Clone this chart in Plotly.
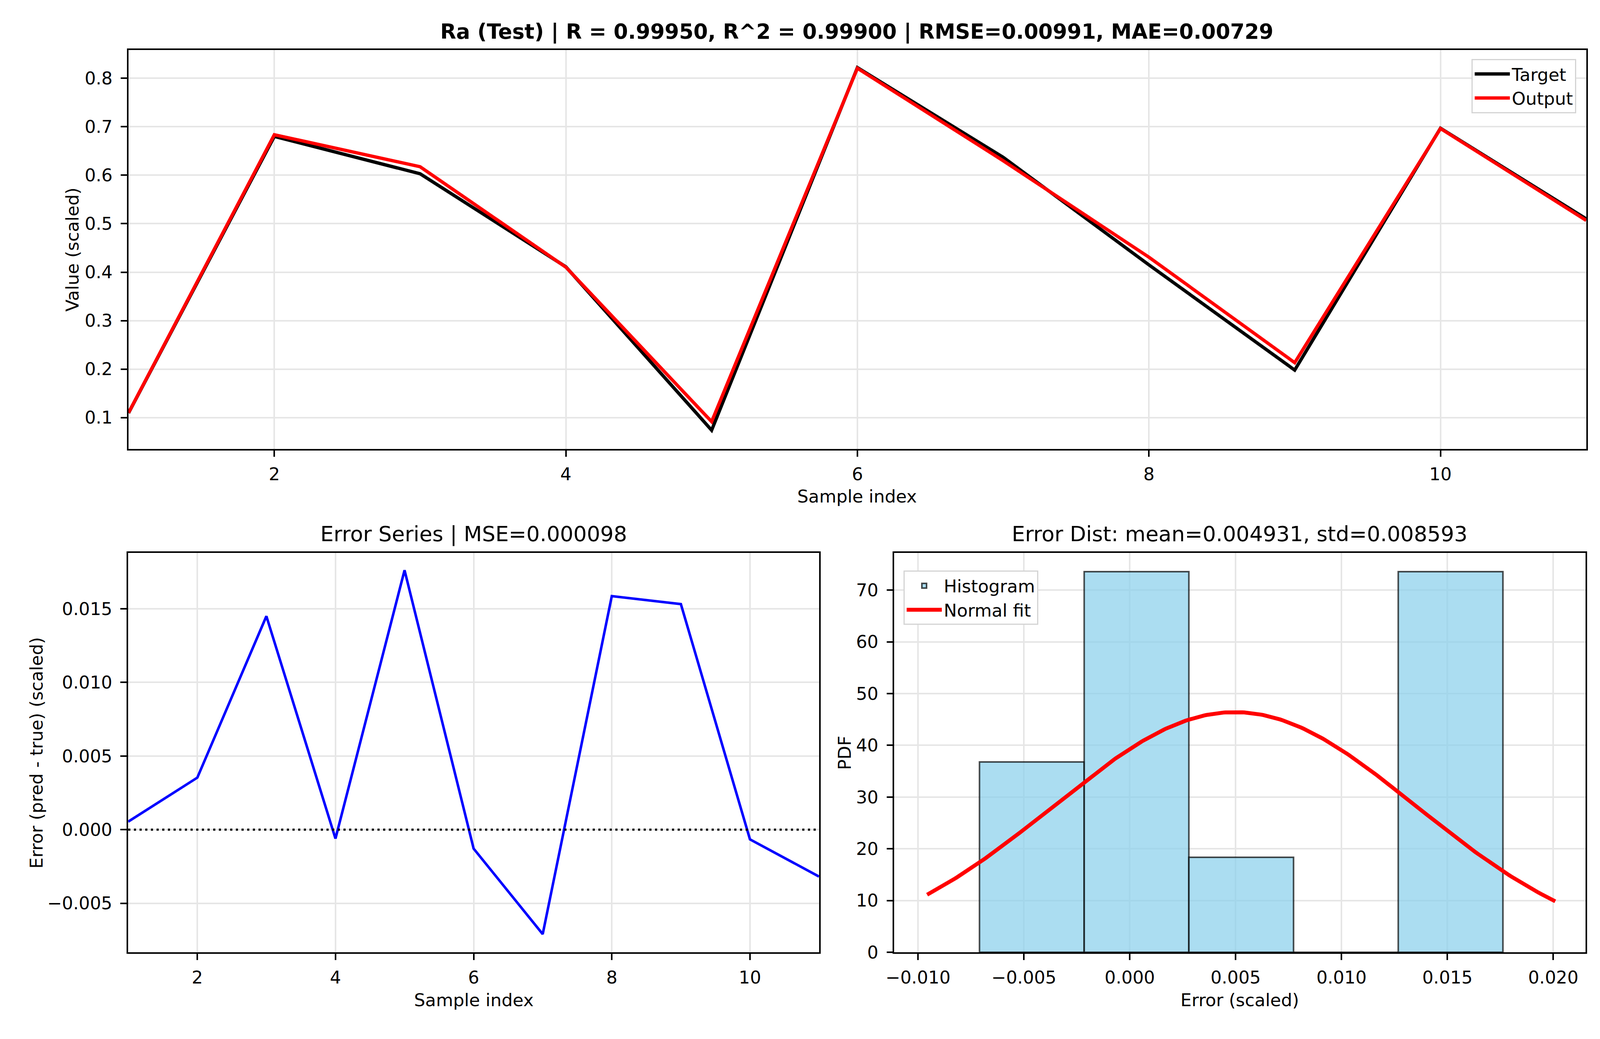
import numpy as np
import plotly.graph_objects as go
from plotly.subplots import make_subplots

# values
sample_index = [1, 2, 3, 4, 5, 6, 7, 8, 9, 10, 11]
target = [0.1095, 0.6800, 0.6030, 0.4110, 0.0740, 0.8220, 0.6370, 0.4150, 0.1980, 0.6970, 0.5100]
output = [0.1100, 0.6835, 0.6175, 0.4104, 0.0916, 0.8207, 0.6299, 0.4309, 0.2133, 0.6963, 0.5068]
errors = [0.00054, 0.00353, 0.0145, -0.00061, 0.01762, -0.00129, -0.0071, 0.01586, 0.01532, -0.00066, -0.00319]

main_title = "Ra (Test) | R = 0.99950, R^2 = 0.99900 | RMSE=0.00991, MAE=0.00729"
series_title = "Error Series | MSE=0.000098"
dist_title = "Error Dist: mean=0.004931, std=0.008593"

FONT = "DejaVu Sans"
TICK = 45

# histogram (density) + normal fit
err = np.array(errors)
dens, edges = np.histogram(err, bins=5, density=True)
centers = (edges[:-1] + edges[1:]) / 2
widths = np.diff(edges)
mu, sd = err.mean(), err.std()
span = err.max() - err.min()
xs = np.linspace(err.min() - 0.1 * span, err.max() + 0.1 * span, 300)
pdf = np.exp(-0.5 * ((xs - mu) / sd) ** 2) / (sd * np.sqrt(2 * np.pi))

fig = make_subplots(rows=2, cols=2, specs=[[{"colspan": 2}, None], [{}, {}]])

fig.add_trace(go.Scatter(x=sample_index, y=target, mode="lines", name="Target",
                         line=dict(color="black", width=8.5), legend="legend"), row=1, col=1)
fig.add_trace(go.Scatter(x=sample_index, y=output, mode="lines", name="Output",
                         line=dict(color="red", width=8.5), legend="legend"), row=1, col=1)

fig.add_trace(go.Scatter(x=sample_index, y=errors, mode="lines", showlegend=False,
                         line=dict(color="blue", width=6.5)), row=2, col=1)

fig.add_trace(go.Bar(x=centers, y=dens, width=widths, name="Histogram",
                     marker=dict(color="rgba(135,206,235,0.7)",
                                 line=dict(color="rgba(0,0,0,0.7)", width=4)),
                     legend="legend2"), row=2, col=2)
fig.add_trace(go.Scatter(x=xs, y=pdf, mode="lines", name="Normal fit",
                         line=dict(color="red", width=10), legend="legend2"), row=2, col=2)

# zero reference line in the error series
fig.add_shape(type="line", xref="x2 domain", yref="y2", x0=0, x1=1, y0=0, y1=0,
              line=dict(color="black", width=5.5, dash="5.5px,9px"))

axis_style = dict(showline=True, mirror=True, linecolor="black", linewidth=3.7,
                  ticks="outside", ticklen=16, tickwidth=3.7, tickcolor="black",
                  showgrid=True, gridcolor="#e6e6e6", gridwidth=3.5, zeroline=False,
                  tickfont=dict(family=FONT, size=TICK, color="black"))

fig.update_xaxes(ticklabelstandoff=6, **axis_style)
fig.update_yaxes(ticklabelstandoff=12, **axis_style)

legend_style = dict(bgcolor="white", bordercolor="#d4d4d4", borderwidth=3,
                    itemwidth=90, font=dict(family=FONT, size=TICK, color="black"))

fig.update_layout(
    margin=dict(l=0, r=0, t=0, b=0),
    paper_bgcolor="white", plot_bgcolor="white",
    font=dict(family=FONT, size=TICK, color="black"),
    bargap=0,
    xaxis=dict(domain=[0.0737, 0.9933], range=[1, 11], dtick=2),
    yaxis=dict(domain=[0.5637, 0.954], range=[0.035, 0.858], dtick=0.1, tickformat=".1f"),
    xaxis2=dict(domain=[0.0735, 0.5093], range=[1, 11], dtick=2),
    yaxis2=dict(domain=[0.0715, 0.4622], range=[-0.00833, 0.0188], dtick=0.005, tickformat=".3f"),
    xaxis3=dict(domain=[0.5568, 0.9928], range=[-0.01112, 0.02152], dtick=0.005, tickformat=".3f"),
    yaxis3=dict(domain=[0.0715, 0.4622], range=[0, 77.2], dtick=10),
    legend=dict(x=0.987, y=0.9455, xanchor="right", yanchor="top", **legend_style),
    legend2=dict(x=0.5626, y=0.4449, xanchor="left", yanchor="top", **legend_style),
)

def label(text, x, y, size=TICK, angle=0, weight="normal"):
    fig.add_annotation(text=text, x=x, y=y, xref="paper", yref="paper",
                       xanchor="center", yanchor="middle", showarrow=False,
                       textangle=angle,
                       font=dict(family=FONT, size=size, color="black", weight=weight))

label(main_title, 0.5332, 0.9722, size=53, weight="bold")
label(series_title, 0.2914, 0.4806, size=54)
label(dist_title, 0.7747, 0.4806, size=54)
label("Sample index", 0.5332, 0.5175)
label("Sample index", 0.2914, 0.0245)
label("Error (scaled)", 0.7747, 0.0245)
label("Value (scaled)", 0.0382, 0.759, angle=-90)
label("Error (pred - true) (scaled)", 0.0155, 0.2668, angle=-90)
label("PDF", 0.5255, 0.2668, angle=-90)

fig.write_html("out.html")
